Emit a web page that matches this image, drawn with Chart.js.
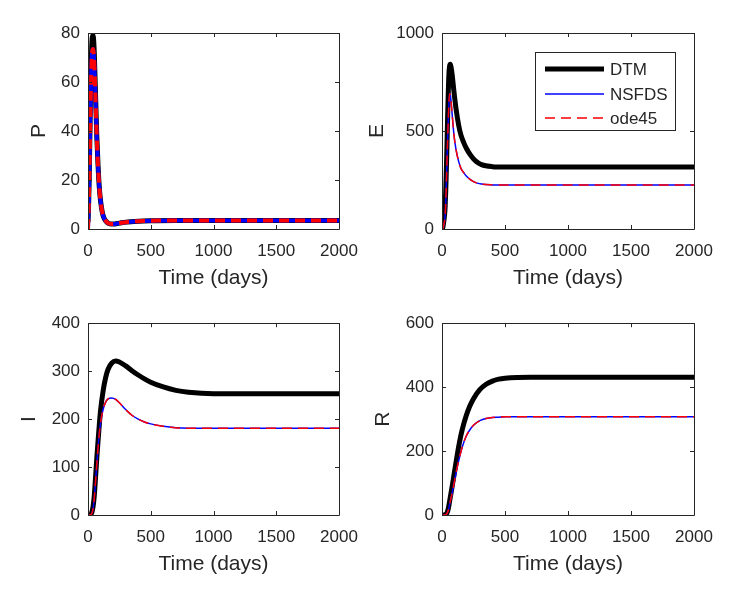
<!DOCTYPE html>
<html>
<head>
<meta charset="utf-8">
<script src="https://cdn.jsdelivr.net/npm/chart.js@4.4.1/dist/chart.umd.min.js"></script>
<style>
  html, body { margin: 0; padding: 0; background: #fff; }
  body { width: 742px; height: 610px; position: relative; overflow: hidden; }
  .panel { position: absolute; }
</style>
</head>
<body>
<div class="panel" style="left:0;top:0;width:371px;height:305px"><canvas id="chartP"></canvas></div>
<div class="panel" style="left:350px;top:0;width:392px;height:305px"><canvas id="chartE"></canvas></div>
<div class="panel" style="left:0;top:305px;width:371px;height:305px"><canvas id="chartI"></canvas></div>
<div class="panel" style="left:350px;top:305px;width:392px;height:305px"><canvas id="chartR"></canvas></div>
<script>
// time points (days)
const tP = [0, 5, 10, 15, 20, 25, 30, 35, 40, 45, 50, 60, 70, 80, 90, 100, 115, 130, 150, 175, 200, 250, 300, 400, 500, 700, 1000, 1500, 2000];
const tE = [0, 5, 10, 20, 25, 30, 37, 45, 50, 55, 60, 66, 72, 80, 95, 110, 132, 150, 175, 193, 225, 250, 280, 313, 400, 500, 1000, 1500, 2000];
const tIR = [0, 20, 30, 40, 50, 60, 70, 80, 90, 100, 120, 140, 160, 190, 220, 250, 300, 350, 400, 450, 500, 600, 700, 800, 1000, 1500, 2000];

// P
const P_DTM   = [3, 10, 22, 38, 55, 67, 75, 78.5, 79, 77, 72, 55, 38, 26, 17, 11.5, 6.5, 4.2, 2.8, 2.1, 2.0, 2.4, 2.8, 3.2, 3.4, 3.5, 3.5, 3.5, 3.5];
const P_NSFDS = [0, 8, 19, 34, 50, 62, 70, 73, 73.5, 72, 68, 53, 37, 25.5, 17, 11.5, 6.5, 4.2, 2.8, 2.1, 2.0, 2.4, 2.8, 3.2, 3.4, 3.5, 3.5, 3.5, 3.5];
const P_ode45 = [0, 8, 19, 34, 50, 62, 70, 73, 73.5, 72, 68, 53, 37, 25.5, 17, 11.5, 6.5, 4.2, 2.8, 2.1, 2.0, 2.4, 2.8, 3.2, 3.4, 3.5, 3.5, 3.5, 3.5];

// E
const E_DTM   = [0, 5, 20, 70, 115, 200, 360, 580, 700, 790, 830, 840, 825, 790, 700, 620, 530, 480, 437, 412, 378, 358, 340, 328, 318, 316, 316, 316, 316];
const E_NSFDS = [0, 2, 8, 40, 70, 140, 290, 460, 560, 640, 690, 685, 650, 590, 480, 410, 345, 310, 285, 270, 252, 242, 234, 229, 225, 224, 224, 224, 224];
const E_ode45 = [0, 2, 8, 40, 70, 140, 290, 460, 560, 640, 690, 685, 650, 590, 480, 410, 345, 310, 285, 270, 252, 242, 234, 229, 225, 224, 224, 224, 224];

// I
const I_DTM   = [0, 1, 5, 17, 40, 78, 118, 154, 188, 218, 258, 286, 304, 317, 321, 319, 311, 301, 292, 284, 277, 267, 260, 256, 253, 253, 253];
const I_NSFDS = [0, 0.5, 3, 12, 35, 70, 105, 140, 170, 192, 220, 235, 242, 244, 241, 234, 220, 208, 200, 194, 190, 185, 182, 181, 181, 181, 181];
const I_ode45 = [0, 0.5, 3, 12, 35, 70, 105, 140, 170, 192, 220, 235, 242, 244, 241, 234, 220, 208, 200, 194, 190, 185, 182, 181, 181, 181, 181];

// R
const R_DTM   = [0, 0, 2, 7, 20, 42, 65, 88, 112, 137, 186, 230, 266, 308, 340, 364, 392, 409, 419, 425, 428, 430.5, 431, 431, 431, 431, 431];
const R_NSFDS = [0, 0, 1, 5, 15, 32, 50, 68, 88, 108, 148, 182, 212, 245, 266, 281, 295, 302, 305, 306, 307, 307, 307, 307, 307, 307, 307];
const R_ode45 = [0, 0, 1, 5, 15, 32, 50, 68, 88, 108, 148, 182, 212, 245, 266, 281, 295, 302, 305, 306, 307, 307, 307, 307, 307, 307, 307];

const xTicks = [0, 500, 1000, 1500, 2000];
const seriesNames = ["DTM", "NSFDS", "ode45"];

const ink = "#262626";
const fontFamily = "'Liberation Sans', Arial, Helvetica, sans-serif";

function pts(ts, vs) {
  return ts.map((t, i) => ({ x: t, y: vs[i] }));
}

// order: DTM at the bottom, ode45 dashes on top
function datasets(ts, dtm, nsfds, ode, thick) {
  return [
    { label: seriesNames[0], data: pts(ts, dtm), borderColor: "#000000", borderWidth: 5, order: 3 },
    { label: seriesNames[1], data: pts(ts, nsfds), borderColor: "#0000ff", borderWidth: thick ? 4 : 1.5, order: 2 },
    { label: seriesNames[2], data: pts(ts, ode), borderColor: "#ff0000", borderWidth: thick ? 4 : 1.5, borderDash: [10, 6], order: 1 },
  ];
}

// MATLAB style box with inward ticks
const framePlugin = {
  id: "frame",
  afterDatasetsDraw(chart) {
    const { ctx, chartArea: a, scales: { x, y } } = chart;
    const len = 4;
    ctx.save();
    ctx.strokeStyle = ink;
    ctx.lineWidth = 1;
    ctx.beginPath();
    ctx.rect(Math.round(a.left) + 0.5, Math.round(a.top) + 0.5, Math.round(a.width), Math.round(a.height));
    x.ticks.forEach((t) => {
      const px = Math.round(x.getPixelForValue(t.value)) + 0.5;
      ctx.moveTo(px, a.bottom); ctx.lineTo(px, a.bottom - len);
      ctx.moveTo(px, a.top); ctx.lineTo(px, a.top + len);
    });
    y.ticks.forEach((t) => {
      const py = Math.round(y.getPixelForValue(t.value)) + 0.5;
      ctx.moveTo(a.left, py); ctx.lineTo(a.left + len, py);
      ctx.moveTo(a.right, py); ctx.lineTo(a.right - len, py);
    });
    ctx.stroke();
    ctx.restore();
  },
};

// boxed legend inside the E panel
const boxLegend = {
  id: "boxLegend",
  afterDraw(chart, args, opts) {
    if (!opts.show) return;
    const { ctx } = chart;
    const b = opts.box;
    ctx.save();
    ctx.fillStyle = "#fff";
    ctx.fillRect(b.x, b.y, b.w, b.h);
    ctx.strokeStyle = ink;
    ctx.lineWidth = 1;
    ctx.strokeRect(b.x + 0.5, b.y + 0.5, b.w, b.h);
    ctx.font = "17px " + fontFamily;
    ctx.textBaseline = "middle";
    chart.data.datasets.forEach((ds, i) => {
      const yy = b.y + opts.rows[i];
      ctx.beginPath();
      ctx.strokeStyle = ds.borderColor;
      ctx.lineWidth = i === 0 ? 5 : 1.5;
      ctx.setLineDash(ds.borderDash || []);
      ctx.moveTo(b.x + opts.lineFrom, yy);
      ctx.lineTo(b.x + opts.lineTo, yy);
      ctx.stroke();
      ctx.setLineDash([]);
      ctx.fillStyle = ink;
      ctx.fillText(ds.label, b.x + opts.textAt, yy + 1);
    });
    ctx.restore();
  },
};

const plainNumber = (v) => String(v);

function makeChart(id, ds, yMax, yStep, yTitle, L) {
  return new Chart(document.getElementById(id), {
    type: "line",
    data: { datasets: ds },
    plugins: [framePlugin, boxLegend],
    options: {
      animation: false,
      responsive: true,
      maintainAspectRatio: false,
      layout: { padding: { left: L.padLeft, top: L.padTop, right: L.padRight, bottom: L.padBottom } },
      elements: {
        point: { radius: 0 },
        line: { cubicInterpolationMode: "monotone", borderCapStyle: "butt", fill: false },
      },
      plugins: {
        legend: { display: false },
        tooltip: { enabled: false },
        boxLegend: L.legend || { show: false },
      },
      scales: {
        x: {
          type: "linear",
          min: 0,
          max: 2000,
          afterBuildTicks: (s) => { s.ticks = xTicks.map((v) => ({ value: v })); },
          ticks: { color: ink, font: { family: fontFamily, size: 17 }, padding: 12, maxRotation: 0, autoSkip: false, callback: plainNumber },
          grid: { display: false, drawTicks: false },
          border: { display: false },
          title: { display: true, text: "Time (days)", color: ink, font: { family: fontFamily, size: 21 }, padding: 0 },
          afterFit: (s) => { s.height = 62; },
        },
        y: {
          type: "linear",
          min: 0,
          max: yMax,
          ticks: { stepSize: yStep, color: ink, font: { family: fontFamily, size: 17 }, padding: 8, autoSkip: false, callback: plainNumber },
          grid: { display: false, drawTicks: false },
          border: { display: false },
          title: { display: true, text: yTitle, color: ink, font: { family: fontFamily, size: 21 }, padding: 0 },
          afterFit: (s) => { s.width = L.yWidth; },
        },
      },
    },
  });
}

// 1. P
makeChart("chartP", datasets(tP, P_DTM, P_NSFDS, P_ode45, true), 80, 20, "P",
  { padLeft: 27, yWidth: 61, padTop: 33, padRight: 32, padBottom: 14 });

// 2. E (with legend)
makeChart("chartE", datasets(tE, E_DTM, E_NSFDS, E_ode45, false), 1000, 500, "E",
  { padLeft: 15, yWidth: 77, padTop: 33, padRight: 48, padBottom: 14,
    legend: { show: true, box: { x: 185, y: 52, w: 140, h: 78 }, rows: [17, 42, 66], lineFrom: 10, lineTo: 69, textAt: 75 } });

// 3. I
makeChart("chartI", datasets(tIR, I_DTM, I_NSFDS, I_ode45, false), 400, 100, "I",
  { padLeft: 17, yWidth: 71, padTop: 16, padRight: 32, padBottom: 33 });

// 4. R
makeChart("chartR", datasets(tIR, R_DTM, R_NSFDS, R_ode45, false), 600, 200, "R",
  { padLeft: 21, yWidth: 71, padTop: 16, padRight: 48, padBottom: 33 });
</script>
</body>
</html>
